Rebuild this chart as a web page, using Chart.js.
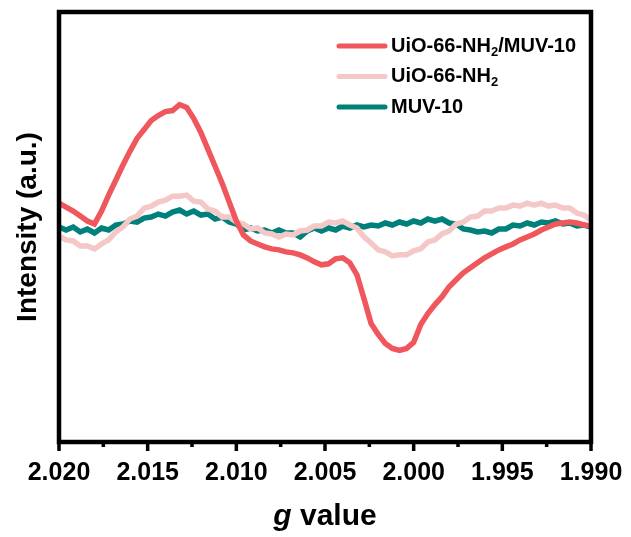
<!DOCTYPE html>
<html>
<head>
<meta charset="utf-8">
<title>EPR spectra</title>
<style>
  html, body { margin: 0; padding: 0; background: #fff; }
  canvas { display: block; }
</style>
<script src="https://cdn.jsdelivr.net/npm/chart.js@4.4.1/dist/chart.umd.min.js"></script>
</head>
<body>
<canvas id="eprChart" width="631" height="537"></canvas>
<script>
// g values of the sweep (x axis, reversed)
const gValues = [
  2.0200, 2.0196, 2.0192, 2.0188, 2.0184, 2.0180, 2.0176, 2.0172, 2.0168, 2.0164,
  2.0160, 2.0156, 2.0152, 2.0148, 2.0144, 2.0140, 2.0136, 2.0132, 2.0128, 2.0124,
  2.0120, 2.0116, 2.0112, 2.0108, 2.0104, 2.0100, 2.0096, 2.0092, 2.0088, 2.0084,
  2.0080, 2.0076, 2.0072, 2.0068, 2.0064, 2.0060, 2.0056, 2.0052, 2.0048, 2.0044,
  2.0040, 2.0036, 2.0032, 2.0028, 2.0024, 2.0020, 2.0016, 2.0012, 2.0008, 2.0004,
  2.0000, 1.9996, 1.9992, 1.9988, 1.9984, 1.9980, 1.9976, 1.9972, 1.9968, 1.9964,
  1.9960, 1.9956, 1.9952, 1.9948, 1.9944, 1.9940, 1.9936, 1.9932, 1.9928, 1.9924,
  1.9920, 1.9916, 1.9912, 1.9908, 1.9904, 1.9900
];

// intensities (a.u.)
const compositeSignal = [
  26, 22, 18, 13, 8, 5, 18, 34, 49, 64,
  78, 91, 100, 109, 114, 118, 119, 125, 122, 111,
  97, 80, 63, 46, 27, 8, -6, -12, -15, -18,
  -20, -21, -23, -24, -26, -29, -33, -36, -35, -30,
  -29, -34, -46, -70, -95, -106, -115, -120, -122, -120,
  -114, -96, -85, -76, -68, -58, -51, -44, -39, -34,
  -29, -25, -21, -18, -15, -11, -8, -5, -1, 2,
  5, 6, 7, 6, 4, 3
];
const uioSignal = [
  -7, -11, -12, -17, -17, -20, -15, -11, -3, 2,
  10, 13, 21, 23, 27, 29, 33, 33, 34, 28,
  27, 20, 18, 12, 12, 7, 5, 0, 1, -4,
  -5, -8, -5, -6, -2, -1, 3, 3, 7, 6,
  8, 4, 1, -8, -14, -21, -23, -27, -26, -26,
  -22, -20, -13, -11, -5, -2, 5, 7, 12, 13,
  18, 18, 21, 21, 24, 23, 26, 24, 26, 23,
  24, 21, 21, 16, 14, 9
];
const muvSignal = [
  2, -1, 2, -3, 0, -4, 1, -1, 4, 5,
  8, 7, 11, 12, 15, 13, 17, 19, 15, 18,
  14, 15, 10, 12, 7, 5, -1, 1, -2, -1,
  -4, -1, -4, -4, -8, -2, 1, -2, 1, -1,
  3, 1, 4, 2, 4, 3, 6, 4, 7, 5,
  8, 6, 10, 8, 10, 6, 5, 0, -1, -3,
  -2, -4, 0, 0, 4, 3, 6, 4, 7, 6,
  8, 5, 6, 3, 4, 2
];

const seriesNames = ['UiO-66-NH₂/MUV-10', 'UiO-66-NH₂', 'MUV-10'];
const seriesColors = ['#ef575d', '#f5c8c8', '#00807a'];

const xMajorTicks = [2.020, 2.015, 2.010, 2.005, 2.000, 1.995, 1.990];
const xMinorTicks = [2.0175, 2.0125, 2.0075, 2.0025, 1.9975, 1.9925];

const FONT = "'Liberation Sans', Arial, sans-serif";

function toPoints(ys) {
  return gValues.map((g, i) => ({ x: g, y: ys[i] }));
}

// text with the ₂ rendered as a real subscript
function drawRichText(ctx, text, x, y, size) {
  const parts = text.split('₂');
  parts.forEach((p, i) => {
    ctx.font = `bold ${size}px ${FONT}`;
    ctx.fillText(p, x, y);
    x += ctx.measureText(p).width;
    if (i < parts.length - 1) {
      ctx.font = `bold ${Math.round(size * 0.65)}px ${FONT}`;
      ctx.fillText('2', x, y + size * 0.32);
      x += ctx.measureText('2').width;
    }
  });
}

const framePlugin = {
  id: 'frameAndLegend',
  afterDraw(chart) {
    const { ctx, chartArea: a, scales: { x } } = chart;
    ctx.save();

    // box around the plot
    ctx.strokeStyle = '#000';
    ctx.lineWidth = 4.5;
    ctx.strokeRect(a.left, a.top, a.right - a.left, a.bottom - a.top);

    // outward ticks on the g axis
    ctx.lineWidth = 3.5;
    ctx.beginPath();
    xMajorTicks.forEach(v => {
      const px = x.getPixelForValue(v);
      ctx.moveTo(px, a.bottom);
      ctx.lineTo(px, a.bottom + 9);
    });
    xMinorTicks.forEach(v => {
      const px = x.getPixelForValue(v);
      ctx.moveTo(px, a.bottom);
      ctx.lineTo(px, a.bottom + 5);
    });
    ctx.stroke();

    // legend
    ctx.textBaseline = 'middle';
    ctx.textAlign = 'left';
    ctx.fillStyle = '#000';
    chart.data.datasets.forEach((ds, i) => {
      const y = 46 + i * 30.5;
      ctx.strokeStyle = ds.borderColor;
      ctx.lineWidth = 5;
      ctx.lineCap = 'round';
      ctx.beginPath();
      ctx.moveTo(339, y);
      ctx.lineTo(385, y);
      ctx.stroke();
      drawRichText(ctx, ds.label, 391, y, 20);
    });

    // axis title: italic g
    ctx.lineCap = 'butt';
    ctx.textBaseline = 'middle';
    const cx = (a.left + a.right) / 2;
    ctx.font = `italic bold 30px ${FONT}`;
    const wg = ctx.measureText('g').width;
    ctx.font = `bold 30px ${FONT}`;
    const wv = ctx.measureText(' value').width;
    const start = cx - (wg + wv) / 2;
    ctx.font = `italic bold 30px ${FONT}`;
    ctx.fillText('g', start, 517);
    ctx.font = `bold 30px ${FONT}`;
    ctx.fillText(' value', start + wg, 517);

    ctx.restore();
  }
};

const datasets = [compositeSignal, uioSignal, muvSignal].map((ys, i) => ({
  label: seriesNames[i],
  data: toPoints(ys),
  borderColor: seriesColors[i],
  backgroundColor: seriesColors[i],
  borderWidth: 5.5,
  pointRadius: 0,
  tension: 0,
  fill: false
}));

new Chart(document.getElementById('eprChart').getContext('2d'), {
  type: 'line',
  data: { datasets: datasets },
  options: {
    responsive: false,
    animation: false,
    devicePixelRatio: 1,
    layout: { padding: { top: 12, right: 40, left: 0, bottom: 0 } },
    plugins: {
      legend: { display: false },
      tooltip: { enabled: false }
    },
    scales: {
      x: {
        type: 'linear',
        reverse: true,
        min: 1.990,
        max: 2.020,
        grid: { display: false },
        border: { display: false },
        afterBuildTicks: s => { s.ticks = xMajorTicks.map(v => ({ value: v })); },
        afterFit: s => { s.height = 95; },
        ticks: {
          autoSkip: false,
          maxRotation: 0,
          padding: 8,
          color: '#000',
          font: { family: FONT, size: 25, weight: 'bold' },
          callback: v => Number(v).toFixed(3)
        }
      },
      y: {
        min: -214,
        max: 218,
        grid: { display: false },
        border: { display: false },
        ticks: { display: false },
        afterFit: s => { s.width = 59; },
        title: {
          display: true,
          text: 'Intensity (a.u.)',
          color: '#000',
          padding: { top: 11, bottom: 0 },
          font: { family: FONT, size: 28, weight: 'bold' }
        }
      }
    }
  },
  plugins: [framePlugin]
});
</script>
</body>
</html>
